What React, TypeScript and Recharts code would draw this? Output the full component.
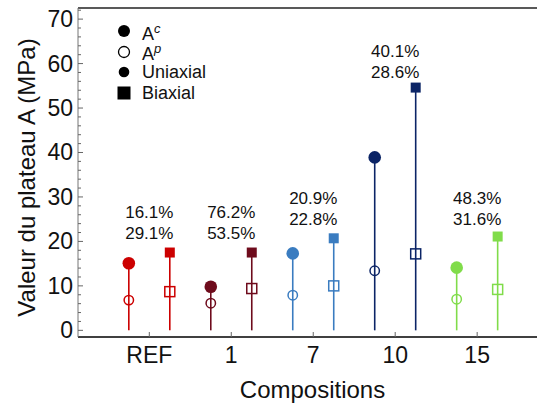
import {
  ComposedChart,
  Label,
  Line,
  ReferenceLine,
  Scatter,
  XAxis,
  YAxis,
} from "recharts";

const FONT = "'Liberation Sans', Arial, sans-serif";

// one entry per composition
const compositions = ["REF", "1", "7", "10", "15"];
const colors = ["#cc0000", "#6e0b1c", "#3a7cc0", "#0b2466", "#80dc4a"];
const uniaxialAc = [15.1, 9.8, 17.3, 38.9, 14.1];
const uniaxialAp = [6.8, 6.1, 7.9, 13.4, 7.0];
const biaxialAc = [17.5, 17.5, 20.7, 54.6, 21.1];
const biaxialAp = [8.7, 9.4, 10.0, 17.2, 9.2];
const ratioTop = ["16.1%", "76.2%", "20.9%", "40.1%", "48.3%"];
const ratioBottom = ["29.1%", "53.5%", "22.8%", "28.6%", "31.6%"];
const ratioAnchor = [26.7, 26.7, 29.7, 62.8, 29.7];

const yTicks = Array.from({ length: 37 }, (_, i) => i * 2);
const xTicks = [1, 2, 3, 4, 5];
const SHIFT = 0.25;

const uniAcPts = compositions.map((_, i) => ({ x: i + 1 - SHIFT, y: uniaxialAc[i], color: colors[i] }));
const uniApPts = compositions.map((_, i) => ({ x: i + 1 - SHIFT, y: uniaxialAp[i], color: colors[i] }));
const biAcPts = compositions.map((_, i) => ({ x: i + 1 + SHIFT, y: biaxialAc[i], color: colors[i] }));
const biApPts = compositions.map((_, i) => ({ x: i + 1 + SHIFT, y: biaxialAp[i], color: colors[i] }));
const notePts = compositions.map((_, i) => ({ x: i + 1, y: ratioAnchor[i], top: ratioTop[i], bottom: ratioBottom[i] }));

const YTick = ({ x, y, payload }: any) => {
  const major = payload.value % 10 === 0;
  return (
    <g>
      <line x1={x} x2={x + (major ? 5 : 3)} y1={y} y2={y} stroke="#666" />
      {major && (
        <text x={x - 5} y={y} textAnchor="end" dominantBaseline="central" fontSize={23} fill="#111" fontFamily={FONT}>
          {payload.value}
        </text>
      )}
    </g>
  );
};

const XTick = ({ x, y, payload }: any) => (
  <g>
    <line x1={x} x2={x} y1={y} y2={y - 5} stroke="#666" />
    <text x={x} y={y + 26} textAnchor="middle" fontSize={23} fill="#111" fontFamily={FONT}>
      {compositions[payload.value - 1]}
    </text>
  </g>
);

const filledCircle = (p: any) => <circle cx={p.cx} cy={p.cy} r={6.3} fill={p.payload.color} />;
const openCircle = (p: any) => (
  <circle cx={p.cx} cy={p.cy} r={4.7} fill="none" stroke={p.payload.color} strokeWidth={1.5} />
);
const filledSquare = (p: any) => (
  <rect x={p.cx - 5} y={p.cy - 5} width={10} height={10} fill={p.payload.color} />
);
const openSquare = (p: any) => (
  <rect x={p.cx - 5} y={p.cy - 5} width={10} height={10} fill="none" stroke={p.payload.color} strokeWidth={1.5} />
);
const note = (p: any) => (
  <text textAnchor="middle" fontSize={17} fill="#111" fontFamily={FONT}>
    <tspan x={p.cx} y={p.cy} dy="0.35em">{p.payload.top}</tspan>
    <tspan x={p.cx} y={p.cy + 21} dy="0.35em">{p.payload.bottom}</tspan>
  </text>
);

const legendRows = [
  { label: <>A<sup style={{ fontStyle: "italic", fontSize: 13 }}>c</sup></>, icon: <circle cx={8} cy={8} r={6} fill="#000" /> },
  { label: <>A<sup style={{ fontStyle: "italic", fontSize: 13 }}>p</sup></>, icon: <circle cx={8} cy={8} r={5.5} fill="none" stroke="#000" strokeWidth={1.3} /> },
  { label: "Uniaxial", icon: <circle cx={8} cy={8} r={5.3} fill="#000" /> },
  { label: "Biaxial", icon: <rect x={1.5} y={1.5} width={13} height={13} fill="#000" /> },
];

export default function App() {
  return (
    <div style={{ position: "absolute", left: 0, top: 0, width: 537, height: 404, overflow: "hidden", background: "#fff", fontFamily: FONT }}>
      <ComposedChart width={537} height={404} margin={{ top: 8, right: 0, bottom: 0, left: 0 }}>
        <XAxis
          dataKey="x"
          type="number"
          domain={[0.13, 5.73]}
          allowDataOverflow
          ticks={xTicks}
          interval={0}
          height={67}
          tickSize={0}
          tickMargin={0}
          tickLine={false}
          tick={XTick}
          stroke="#000"
          strokeWidth={1.5}
        >
          <Label
            content={(props: any) => {
              const vb = props.viewBox;
              return (
                <text x={vb.x + vb.width / 2 + 5} y={vb.y + 61} textAnchor="middle" fontSize={24} fill="#111" fontFamily={FONT}>
                  Compositions
                </text>
              );
            }}
          />
        </XAxis>
        <YAxis
          type="number"
          domain={[-1.5, 72.5]}
          allowDataOverflow
          ticks={yTicks}
          interval={0}
          width={78}
          tickSize={0}
          tickMargin={0}
          tickLine={false}
          tick={YTick}
          stroke="#777"
        >
          <Label
            content={(props: any) => {
              const vb = props.viewBox;
              const cy = vb.y + vb.height / 2 + 5;
              return (
                <text transform={`translate(26,${cy}) rotate(-90)`} textAnchor="middle" dominantBaseline="central" fontSize={24} fill="#111" fontFamily={FONT}>
                  Valeur du plateau A (MPa)
                </text>
              );
            }}
          />
        </YAxis>
        <ReferenceLine y={72.5} stroke="#222" strokeWidth={1.5} />
        {compositions.map((c, i) => (
          <Line
            key={"u" + c}
            data={[{ x: i + 1 - SHIFT, y: 0 }, { x: i + 1 - SHIFT, y: uniaxialAc[i] }]}
            dataKey="y"
            stroke={colors[i]}
            strokeWidth={1.6}
            dot={false}
            activeDot={false}
            isAnimationActive={false}
          />
        ))}
        {compositions.map((c, i) => (
          <Line
            key={"b" + c}
            data={[{ x: i + 1 + SHIFT, y: 0 }, { x: i + 1 + SHIFT, y: biaxialAc[i] }]}
            dataKey="y"
            stroke={colors[i]}
            strokeWidth={1.6}
            dot={false}
            activeDot={false}
            isAnimationActive={false}
          />
        ))}
        <Scatter data={uniApPts} dataKey="y" shape={openCircle} isAnimationActive={false} />
        <Scatter data={biApPts} dataKey="y" shape={openSquare} isAnimationActive={false} />
        <Scatter data={uniAcPts} dataKey="y" shape={filledCircle} isAnimationActive={false} />
        <Scatter data={biAcPts} dataKey="y" shape={filledSquare} isAnimationActive={false} />
        <Scatter data={notePts} dataKey="y" shape={note} isAnimationActive={false} />
      </ComposedChart>
      <div style={{ position: "absolute", left: 116, top: 21, fontSize: 18, color: "#111" }}>
        {legendRows.map((row, i) => (
          <div key={i} style={{ display: "flex", alignItems: "center", height: 20.6, lineHeight: "20px" }}>
            <svg width={16} height={16} style={{ marginRight: 10 }}>
              {row.icon}
            </svg>
            <span style={{ whiteSpace: "nowrap" }}>{row.label}</span>
          </div>
        ))}
      </div>
    </div>
  );
}
